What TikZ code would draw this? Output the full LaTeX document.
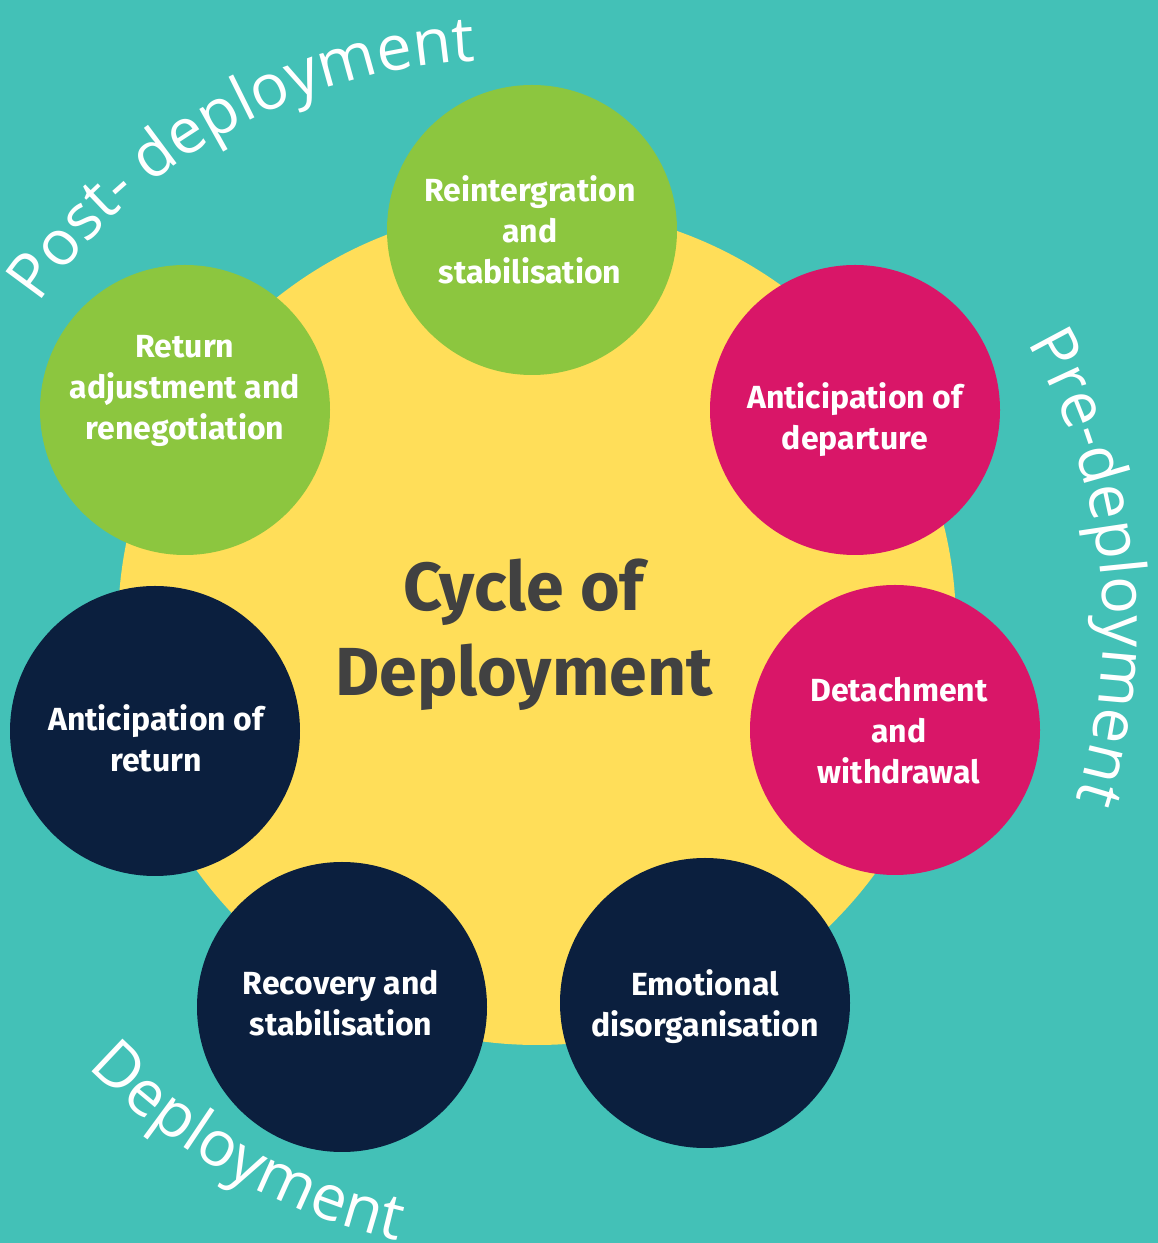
\documentclass[tikz,border=0pt]{standalone}
\usepackage{fontspec}
\setmainfont{Fira Sans}
\newfontfamily\arcfont{Open Sans}
\usetikzlibrary{decorations.text}
\definecolor{seateal}{HTML}{43C1B7}
\definecolor{sunyellow}{HTML}{FFDE59}
\definecolor{leafgreen}{HTML}{8CC63F}
\definecolor{berry}{HTML}{D91668}
\definecolor{deepnavy}{HTML}{0B1F3E}
\definecolor{inkgrey}{HTML}{414141}
\tikzset{
    phase/.style = {circle, inner sep=0pt, minimum size=290pt},
    green_phase/.style = {phase, fill=leafgreen},
    pink_phase/.style = {phase, fill=berry},
    navy_phase/.style = {phase, fill=deepnavy},
    phasetext/.style = {align=center, inner sep=0pt, text=white, font=\fontsize{32}{41}\selectfont\bfseries},
    hubtext/.style = {align=center, inner sep=0pt, text=inkgrey, font=\fontsize{68}{85}\selectfont\bfseries},
    arctext/.style = {decorate, decoration={text along path, text color=white, text align=left,
        text={|\arcfont\fontsize{63}{75}\selectfont|#1}}}
}

\begin{document}
\begin{tikzpicture}[x=1pt, y=1pt]
    \useasboundingbox (0,0) rectangle (1158,1243);
    \fill[seateal] (0,0) rectangle (1158,1243);

    % big circle in the middle
    \node[circle, inner sep=0pt, fill=sunyellow, minimum size=838pt] (hub) at (537,617) {};
    \node[hubtext] (title) at (524,608) {Cycle of\\Deployment};

    % the seven phases
    \node[green_phase] (reint) at (532,1013) {};
    \node[pink_phase] (depart) at (855,833) {};
    \node[pink_phase] (detach) at (895,513) {};
    \node[navy_phase] (emotion) at (705,240) {};
    \node[navy_phase] (recover) at (342,236) {};
    \node[navy_phase] (antreturn) at (155,512) {};
    \node[green_phase] (readjust) at (185,833) {};

    \node[phasetext] (reinttext) at (530,1013) {Reintergration\\and\\stabilisation};
    \node[phasetext] (departtext) at (855,823) {Anticipation of\\departure};
    \node[phasetext] (detachtext) at (899,512) {Detachment\\and\\withdrawal};
    \node[phasetext] (emotiontext) at (705,236) {Emotional\\disorganisation};
    \node[phasetext] (recovertext) at (341,240) {Recovery and\\stabilisation};
    \node[phasetext] (antreturntext) at (156,505) {Anticipation of\\return};
    \node[phasetext] (readjusttext) at (185,852) {Return\\adjustment and\\renegotiation};

    % stage names round the outside
    \coordinate (postc) at (503,620);
    \path[arctext={Post- deployment}] ([shift={(145.5:563)}]postc) arc[start angle=145.5, end angle=80, radius=563];
    \path[arctext={Pre-deployment}] ([shift={(30:566)}]hub.center) arc[start angle=30, end angle=-30, radius=566];
    \path[arctext={Deployment}] ([shift={(224.5:630)}]hub.center) arc[start angle=224.5, end angle=280, radius=630];
\end{tikzpicture}
\end{document}
